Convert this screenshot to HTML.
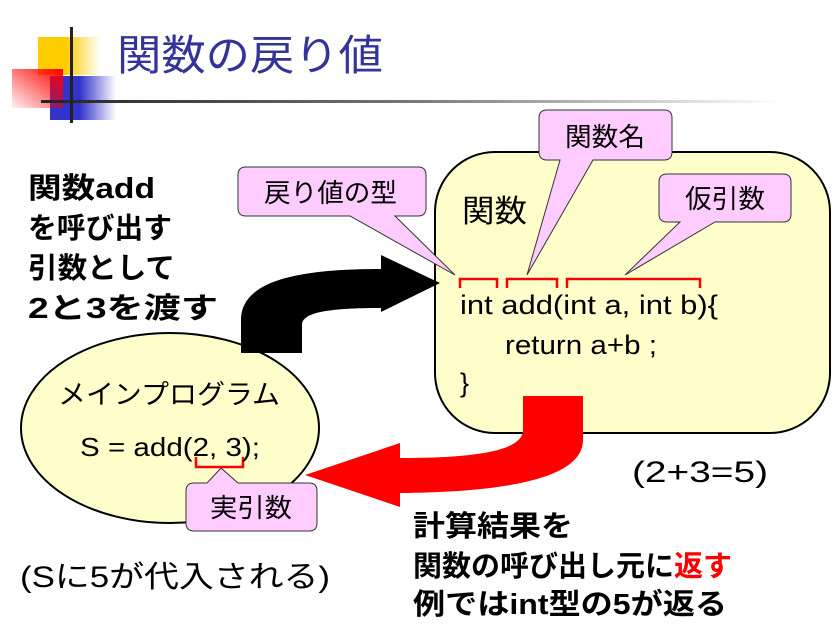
<!DOCTYPE html>
<html><head><meta charset="utf-8"><style>
html,body{margin:0;padding:0;background:#fff}
svg text{font-family:"Liberation Sans","Noto Sans CJK JP",sans-serif}
</style></head><body>
<svg width="839" height="627" viewBox="0 0 839 627" xmlns="http://www.w3.org/2000/svg">
<defs>
<linearGradient id="gy" x1="0" x2="1"><stop offset="0.45" stop-color="#ffcc00"/><stop offset="1" stop-color="#ffcc00" stop-opacity="0"/></linearGradient>
<linearGradient id="gb" x1="0" x2="1"><stop offset="0.45" stop-color="#3333cc"/><stop offset="1" stop-color="#3333cc" stop-opacity="0"/></linearGradient>
<linearGradient id="gr" x1="1" y1="0" x2="0" y2="1"><stop offset="0" stop-color="#ff0000"/><stop offset="1" stop-color="#ff0000" stop-opacity="0.05"/></linearGradient>
<linearGradient id="gl" x1="0" x2="1"><stop offset="0" stop-color="#222"/><stop offset="0.5" stop-color="#777"/><stop offset="1" stop-color="#fff"/></linearGradient>
</defs>
<rect x="38" y="37" width="62" height="38" fill="url(#gy)"/>
<rect x="50" y="76" width="66" height="44" fill="url(#gb)"/>
<rect x="12" y="69" width="51" height="39" fill="url(#gr)"/>
<rect x="41" y="100" width="740" height="3" fill="url(#gl)"/>
<rect x="70" y="27" width="3" height="96" fill="#222"/>
<text x="117" y="70" font-size="42" fill="#333399" textLength="266" lengthAdjust="spacingAndGlyphs">関数の戻り値</text>

<rect x="435" y="152" width="395" height="281" rx="60" fill="#ffffcc" stroke="#000" stroke-width="2"/>
<ellipse cx="170" cy="428" rx="149" ry="95" fill="#ffffcc" stroke="#000" stroke-width="2"/>

<path d="M241,353 L302,353 L302,325 C302,312 330,308 381,308 L381,312 L440,283 L381,255 L381,269 C300,269 241,280 241,320 Z" fill="#000"/>
<path d="M523,396 L583,396 L583,440 C583,480 500,492 400,493 L400,507 L305,475 L400,443 L400,458 C480,458 523,450 523,430 Z" fill="#ff0000"/>

<g fill="#ffccff" stroke="#333" stroke-width="1">
<path d="M246,167 H418 Q426,167 426,175 V208 Q426,216 418,216 H395 L455,275 L350,216 H246 Q238,216 238,208 V175 Q238,167 246,167 Z"/>
<path d="M547,110 H664 Q672,110 672,118 V152 Q672,160 664,160 H593 L527,275 L560,160 H547 Q539,160 539,152 V118 Q539,110 547,110 Z"/>
<path d="M667,174 H783 Q791,174 791,182 V214 Q791,222 783,222 H715 L625,275 L680,222 H667 Q659,222 659,214 V182 Q659,174 667,174 Z"/>
<path d="M194,483 H207 L221,468 L238,483 H309 Q317,483 317,491 V523 Q317,531 309,531 H194 Q186,531 186,523 V491 Q186,483 194,483 Z"/>
</g>
<text x="264" y="202" font-size="26" textLength="133" lengthAdjust="spacingAndGlyphs">戻り値の型</text>
<text x="565" y="146" font-size="26" textLength="80" lengthAdjust="spacingAndGlyphs">関数名</text>
<text x="685" y="208" font-size="26" textLength="80" lengthAdjust="spacingAndGlyphs">仮引数</text>
<text x="210" y="517" font-size="26" textLength="82" lengthAdjust="spacingAndGlyphs">実引数</text>

<g fill="none" stroke="#ff0000" stroke-width="2.5">
<path d="M460,288 V279 H497 V288"/>
<path d="M507,288 V279 H557 V288"/>
<path d="M567,288 V279 H700 V288"/>
<path d="M196,457 V467 H243 V457"/>
</g>

<text x="462" y="222" font-size="31" textLength="65" lengthAdjust="spacingAndGlyphs">関数</text>
<text x="460" y="314" font-size="27" textLength="258" lengthAdjust="spacingAndGlyphs">int add(int a, int b){</text>
<text x="505" y="354" font-size="27" textLength="152" lengthAdjust="spacingAndGlyphs">return a+b ;</text>
<text x="460" y="392" font-size="27">}</text>
<text x="58" y="404" font-size="27" textLength="222" lengthAdjust="spacingAndGlyphs">メインプログラム</text>
<text x="80" y="456" font-size="26" textLength="180" lengthAdjust="spacingAndGlyphs">S = add(2, 3);</text>

<g font-size="29" font-weight="bold">
<text x="28" y="198" textLength="127" lengthAdjust="spacingAndGlyphs">関数add</text>
<text x="28" y="238" textLength="144" lengthAdjust="spacingAndGlyphs">を呼び出す</text>
<text x="28" y="278" textLength="147" lengthAdjust="spacingAndGlyphs">引数として</text>
<text x="28" y="318" textLength="190" lengthAdjust="spacingAndGlyphs">2と3を渡す</text>
<text x="413" y="536" textLength="160" lengthAdjust="spacingAndGlyphs">計算結果を</text>
<text x="413" y="576">関数の呼び出し元に<tspan fill="#ff0000">返す</tspan></text>
<text x="413" y="614" textLength="314" lengthAdjust="spacingAndGlyphs">例ではint型の5が返る</text>
</g>
<text x="632" y="482" font-size="30" textLength="136" lengthAdjust="spacingAndGlyphs">(2+3=5)</text>
<text x="20" y="587" font-size="30" textLength="310" lengthAdjust="spacingAndGlyphs">(Sに5が代入される)</text>
</svg>
</body></html>
